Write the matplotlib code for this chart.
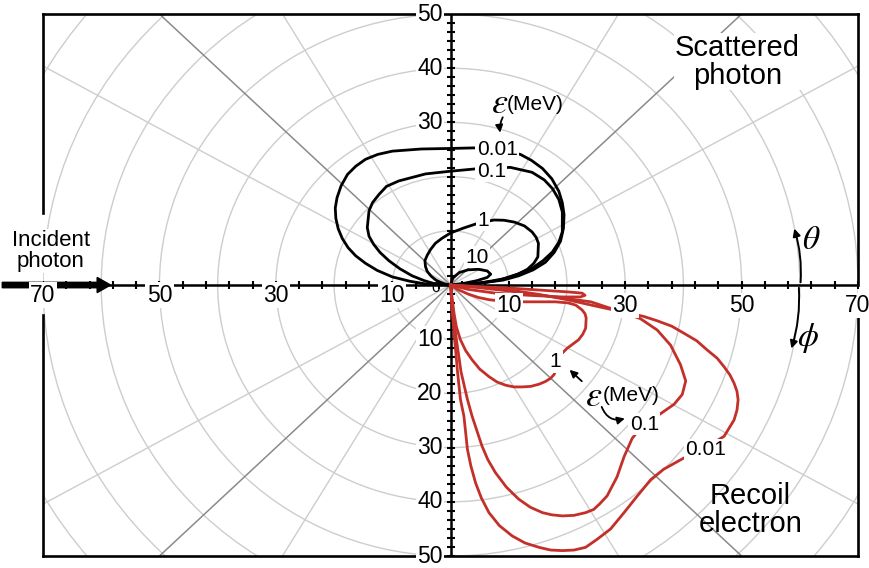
import numpy as np
import matplotlib.pyplot as plt
from matplotlib.patches import Circle

plt.rcParams['font.family'] = ['Liberation Sans', 'DejaVu Sans']
plt.rcParams['mathtext.fontset'] = 'stix'

RED = '#c3302a'

# scattered photon, upper half (x, y in chart units)
ph_001_x = [0, 3, 6, 9, 11.7, 14.2, 16.3, 17.8, 18.9, 19.4, 19.5, 19.2, 18.6, 17.4, 15.8, 13.9, 12, 8, 4, 0,
            -5, -10, -12.5, -14.6, -16.3, -17.7, -18.8, -19.5, -19.8, -19.7, -19.3, -18.6, -17.6, -16.3,
            -14.6, -12.6, -10, -7, -4.3, -2, 0]
ph_001_y = [0, 0.15, 0.5, 0.9, 1.7, 2.8, 4.2, 6.0, 8.1, 10.5, 13, 15.2, 17.3, 19.6, 21.5, 23.0, 24.1, 25.1,
            25.3, 25.2, 25.1, 24.7, 24.1, 23.2, 21.9, 20.4, 18.3, 16.1, 14.2, 12.3, 10.4, 8.6, 6.9, 5.4,
            4.0, 2.7, 1.5, 0.7, 0.2, 0.05, 0]

ph_01_x = [0, 3.7, 6, 8.9, 11.5, 14, 15.9, 17.5, 18.6, 19.2, 19.2, 18.6, 17.5, 16.1, 14, 10.3, 6, 0,
           -4.3, -8.9, -11, -12.3, -13.4, -14, -14.3, -14, -13.2, -12.1, -10.6, -8.7, -6.6, -4.5, -2.6, 0]
ph_01_y = [0, 0.2, 0.55, 1.1, 2.0, 3.1, 4.5, 6.1, 7.9, 9.8, 13.5, 15.8, 17.8, 19.4, 20.8, 21.7, 21.6, 21,
           20.5, 19.2, 18.2, 16.7, 15.2, 13.7, 10.6, 9.0, 7.5, 6.0, 4.5, 3.0, 1.7, 0.8, 0.2, 0]

ph_1_x = [0, 2.5, 5.2, 7.6, 9.7, 11.6, 13.2, 14.3, 15.0, 15.1, 14.7, 14.0, 12.7, 11, 9.2, 7.5, 5, 2.2, 0,
          -1.5, -2.6, -3.4, -4.0, -4.4, -4.3, -4.0, -3.3, -2.5, -1.6, -0.8, 0]
ph_1_y = [0, 0.1, 0.35, 0.75, 1.3, 2.0, 2.9, 4.0, 5.2, 7.7, 8.8, 9.8, 10.9, 11.6, 11.95, 12, 11.5, 10.5,
          9.6, 8.6, 7.7, 6.6, 5.5, 4.5, 3.4, 2.5, 1.6, 0.9, 0.45, 0.15, 0]

ph_10_x = [0, 0.4, 1.5, 3, 4.8, 6.3, 6.9, 6.3, 4.5, 2.5, 0]
ph_10_y = [0, 1.3, 2.3, 2.8, 2.9, 2.6, 2.0, 1.4, 0.8, 0.35, 0]

# recoil electron, lower half
el_001_x = [0, 5, 10, 15, 20, 25, 30.6, 33.2, 35.5, 38.0, 40.1, 42.3, 44.1, 45.8, 47, 48.0, 48.7, 49.2,
            49.4, 49.2, 48.7, 47, 43.5, 40.1, 36.6, 34.4, 32.1, 29.8, 27.5, 25.2, 23.2, 21.2, 19.2, 17.2,
            15.2, 12.8, 10.6, 8.4, 6.6, 5.3, 4.3, 3.5, 2.9, 2.3, 1.7, 1.2, 0.7, 0.3, 0]
el_001_y = [0, -0.4, -0.9, -1.7, -2.7, -3.9, -5.2, -5.8, -6.6, -7.6, -8.9, -10.3, -12, -13.5, -15.1,
            -16.6, -18.1, -19.6, -21.2, -23.1, -24.9, -27.9, -30.2, -31.9, -34, -35.9, -38.9, -42, -45,
            -46.9, -48.4, -48.9, -49, -48.9, -48.4, -47.6, -46.3, -44.4, -42, -39.3, -36.5, -33.4, -30.3,
            -24.2, -21.1, -16, -10, -5, 0]

el_01_x = [0, 5, 10, 15, 20, 24.1, 28.6, 32.6, 35.5, 37.8, 39.5, 40.4, 39.8, 38.4, 36, 33.5, 31.8, 31.2,
           29.8, 28.6, 26.9, 25.6, 24.6, 23.2, 21.2, 19.2, 17.4, 15.8, 13.7, 11.7, 9.6, 7.7, 6.4, 5.4,
           3.7, 2.9, 1.8, 1.0, 0.4, 0]
el_01_y = [0, -0.5, -1.1, -1.8, -2.5, -3.1, -4.7, -6.2, -8.3, -11.1, -14.7, -17.7, -20.2, -22, -23.8,
           -25.5, -27.5, -28.3, -31.7, -35.4, -38.9, -40.4, -41.4, -42, -42.5, -42.6, -42.4, -42, -41,
           -39.5, -37.3, -34.6, -32.2, -29.7, -24.2, -21.1, -16, -10, -5, 0]

el_1_x = [0, 1.4, 3.1, 4.8, 6.6, 9.7, 12.9, 15.5, 18, 20.2, 21.5, 22.6, 23.1, 23.3, 23.2, 22.7, 22, 20,
          18.8, 17.8, 17.2, 16.3, 15.2, 13.8, 12.3, 10.9, 9.5, 8.0, 6.6, 5.0, 3.7, 2.6, 1.7, 1.0, 0.6, 0]
el_1_y = [0, -0.9, -1.7, -2.3, -2.7, -3.1, -3.1, -3.1, -3.1, -3.3, -3.7, -4.6, -5.3, -6.1, -8, -9.1,
          -10.1, -11.7, -13, -16.5, -17.2, -17.8, -18.3, -18.7, -18.8, -18.8, -18.5, -17.9, -16.9, -15.5,
          -13.8, -12.1, -10.1, -7.7, -5.2, 0]

el_10_x = [0, 5, 10.6, 16.3, 20.5, 22.6, 23.1, 22.3, 19.2, 13.5, 7.7, 3, 0]
el_10_y = [0, -0.3, -0.6, -1.0, -1.3, -1.5, -1.9, -2.2, -2.2, -1.9, -1.5, -0.8, 0]

# axis labels
x_labels = [-70, -50, -30, -10, 10, 30, 50, 70]
y_labels_top = [50, 40, 30]
y_labels_bottom = [-10, -20, -30, -40, -50]

grid_r = [10, 20, 30, 40, 50, 60, 70, 80]
light_ang = [30, 60, 120, 150, -30, -60, -120, -150]
dark_ang = [45, 135, -45, -135]

fig = plt.figure(figsize=(8.69, 5.68), dpi=100)
ax = fig.add_axes([0.0495, 0.0211, 0.9379, 0.9542])
ax.set_xlim(-70, 70)
ax.set_ylim(-50, 50)
ax.set_axis_off()

# polar grid
for r in grid_r:
    ax.add_patch(Circle((0, 0), r, fill=False, ec='#cdcdcd', lw=1.0, zorder=1))
for a in light_ang:
    t = np.radians(a)
    ax.plot([0, 120 * np.cos(t)], [0, 120 * np.sin(t)], color='#cdcdcd', lw=1.0, zorder=1)
for a in dark_ang:
    t = np.radians(a)
    ax.plot([0, 120 * np.cos(t)], [0, 120 * np.sin(t)], color='#8a8a8a', lw=1.1, zorder=1)

# frame (with gaps at the labels)
fk = dict(color='k', lw=1.9, clip_on=False, zorder=3, solid_capstyle='projecting')
ax.plot([-70, 70], [50, 50], **fk)
ax.plot([-70, 70], [-50, -50], **fk)
ax.plot([-70, -70], [50, 13.3], **fk)
ax.plot([-70, -70], [-5.5, -50], **fk)
ax.plot([70, 70], [50, 0], **fk)
ax.plot([70, 70], [-4.5, -50], **fk)

# axes through the origin with ticks
ax.plot([-70, 70], [0, 0], color='k', lw=1.8, zorder=3)
ax.plot([0, 0], [-50, 50], color='k', lw=1.8, zorder=3)
xt = np.concatenate([-np.arange(2, 71, 4), np.arange(2, 71, 4)])
ax.plot(xt, np.zeros_like(xt), ls='none', marker='|', ms=6, mew=1.5, color='k', zorder=3)
yt = np.arange(-30, 31) * 5 / 3
yt = yt[yt != 0]
ax.plot(np.zeros_like(yt), yt, ls='none', marker='_', ms=6, mew=1.5, color='k', zorder=3)

# curves
for xs, ys in [(ph_001_x, ph_001_y), (ph_01_x, ph_01_y), (ph_1_x, ph_1_y), (ph_10_x, ph_10_y)]:
    ax.plot(xs, ys, color='k', lw=2.0, zorder=4, solid_joinstyle='round')
for xs, ys in [(el_001_x, el_001_y), (el_01_x, el_01_y), (el_1_x, el_1_y), (el_10_x, el_10_y)]:
    ax.plot(xs, ys, color=RED, lw=2.0, zorder=4, solid_joinstyle='round')

wb = dict(fc='white', ec='none', pad=1.0)
for v in x_labels:
    yy = -1.85 if v < 0 else -3.8
    ax.text(v, yy, str(abs(v)), fontsize=16.5, ha='center', va='center', bbox=wb, zorder=6, clip_on=False)
for v in y_labels_top + y_labels_bottom:
    ax.text(-1.4, v, str(abs(v)), fontsize=16.5, ha='right', va='center', bbox=wb, zorder=6, clip_on=False)
ax.text(-2.5, -0.6, '0', fontsize=11, ha='center', va='center', zorder=2)

# energy labels
ax.text(8.0, 25.0, '0.01', fontsize=15, ha='center', va='center', bbox=wb, zorder=6)
ax.text(7.0, 21.0, '0.1', fontsize=15, ha='center', va='center', bbox=wb, zorder=6)
ax.text(5.6, 11.9, '1', fontsize=15, ha='center', va='center', bbox=wb, zorder=6)
ax.text(4.6, 5.1, '10', fontsize=15, ha='center', va='center', bbox=wb, zorder=6)
ax.text(18.0, -14.2, '1', fontsize=15, ha='center', va='center', bbox=wb, zorder=6)
ax.text(33.3, -25.7, '0.1', fontsize=15, ha='center', va='center', bbox=wb, zorder=6)
ax.text(43.8, -30.4, '0.01', fontsize=15, ha='center', va='center', bbox=wb, zorder=6)

ax.text(8.4, 33.4, r'$\varepsilon$', fontsize=26, ha='center', va='center', zorder=6)
ax.text(9.7, 33.3, '(MeV)', fontsize=15, ha='left', va='center', zorder=6)
ax.annotate('', xy=(8.6, 27.6), xytext=(9.2, 31.4),
            arrowprops=dict(arrowstyle='-|>', color='k', lw=1.3, mutation_scale=11,
                            connectionstyle='arc3,rad=0.2'), zorder=6)

ax.text(24.6, -20.5, r'$\varepsilon$', fontsize=26, ha='center', va='center', zorder=6)
ax.text(26.2, -20.4, '(MeV)', fontsize=15, ha='left', va='center', zorder=6)
ax.annotate('', xy=(20.1, -15.3), xytext=(22.9, -18.1),
            arrowprops=dict(arrowstyle='-|>', color='k', lw=1.3, mutation_scale=11), zorder=6)
ax.annotate('', xy=(30.4, -24.5), xytext=(25.8, -22.0),
            arrowprops=dict(arrowstyle='-|>', color='k', lw=1.3, mutation_scale=11,
                            connectionstyle='arc3,rad=0.5'), zorder=6)

# theta / phi
ax.annotate('', xy=(58.9, 10.9), xytext=(60.1, 0),
            arrowprops=dict(arrowstyle='-|>', color='k', lw=1.4, mutation_scale=11,
                            connectionstyle='arc3,rad=0.1'), zorder=6)
ax.text(62.0, 8.3, r'$\theta$', fontsize=24, ha='center', va='center', zorder=6)
ax.annotate('', xy=(58.4, -12.2), xytext=(59.8, 0),
            arrowprops=dict(arrowstyle='-|>', color='k', lw=1.4, mutation_scale=11,
                            connectionstyle='arc3,rad=-0.1'), zorder=6)
ax.text(61.4, -9.8, r'$\phi$', fontsize=24, ha='center', va='center', zorder=6)

# incident photon
ax.arrow(-77, 0, 18.6, 0, width=1.0, head_width=2.8, head_length=2.3, length_includes_head=True,
         color='k', clip_on=False, zorder=5)
ax.text(-68.7, 6.3, 'Incident\nphoton', fontsize=16, ha='center', va='center', linespacing=1.0,
        bbox=wb, zorder=6, clip_on=False)
ax.text(49.3, 41.2, 'Scattered\nphoton', fontsize=21, ha='center', va='center', linespacing=1.0,
        bbox=dict(fc='white', ec='none', pad=0.5), zorder=6)
ax.text(51.5, -41.5, 'Recoil\nelectron', fontsize=21, ha='center', va='center', linespacing=1.0, zorder=6)

plt.savefig('out.png', dpi=100)
